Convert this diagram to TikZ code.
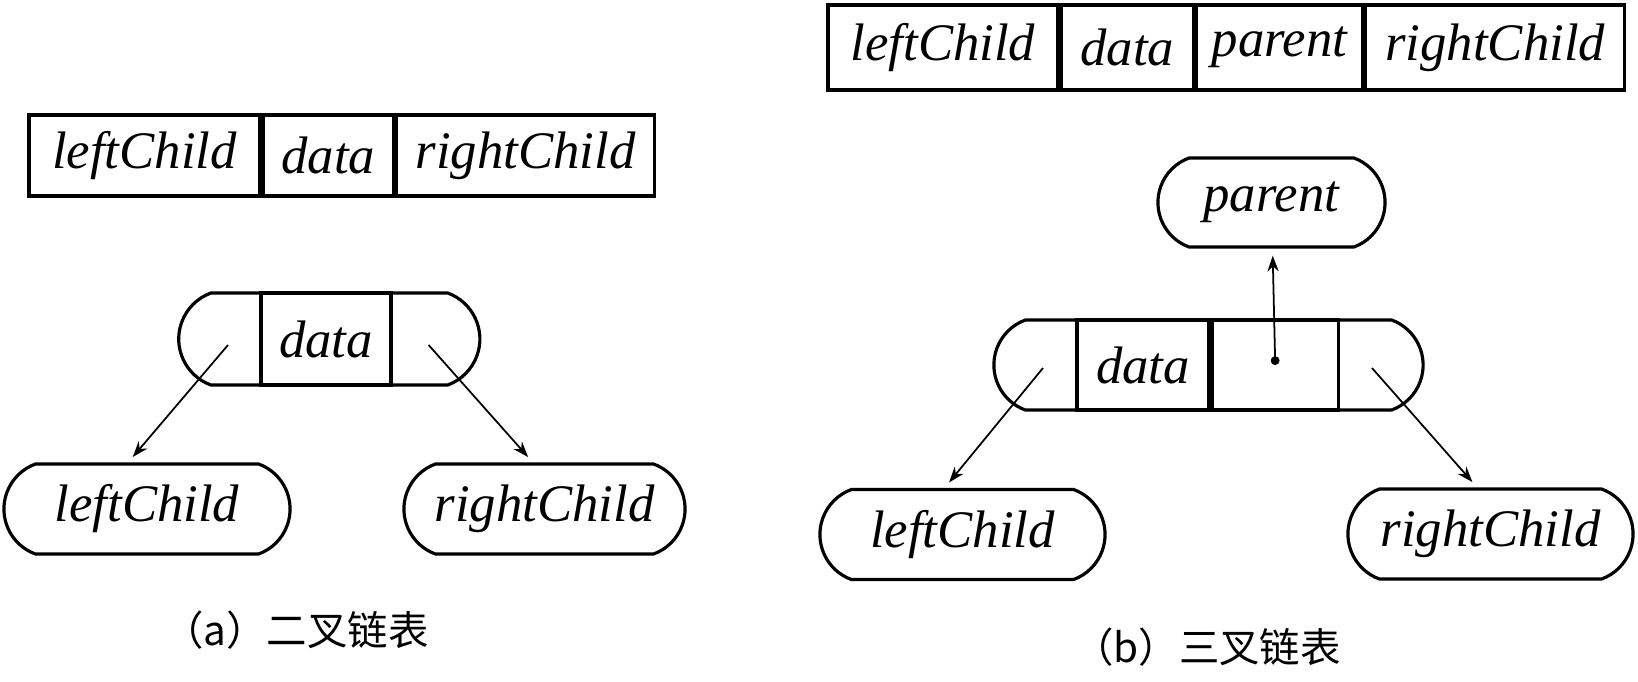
\documentclass[tikz,border=0pt]{standalone}
\usepackage{fontspec}
\setmainfont{Liberation Serif}
\newfontfamily\cjk{Noto Sans CJK SC}
\usetikzlibrary{positioning, arrows.meta, shapes.misc}

\begin{document}
\begin{tikzpicture}[x=0.01cm, y=-0.01cm, line width=0.9pt, node distance=0pt,
    font=\fontsize{15}{18}\selectfont\itshape,
    cell/.style = {draw, rectangle, inner sep=0pt},
    oval/.style = {draw, rounded rectangle, rounded rectangle arc length=140, inner sep=0pt, minimum height=0.9cm},
    link/.style = {-{Stealth[length=4.5pt, width=3.2pt]}, line width=0.5pt, shorten >=2pt},
    caption/.style = {font=\fontsize{11.5}{14}\selectfont\cjk}]
\useasboundingbox (0,0) rectangle (1638,681);

% (a) binary linked list
\node[cell, minimum width=2.31cm, minimum height=0.81cm] (a1) at (144.5,155.5) {leftChild};
\node[cell, minimum width=1.30cm, minimum height=0.81cm, right=of a1] (a2) {data};
\node[cell, minimum width=2.58cm, minimum height=0.81cm, right=of a2] (a3) {rightChild};

\node[oval, minimum width=3.01cm, minimum height=0.92cm] (am) at (329.3,339) {};
\node[cell, minimum width=1.30cm, minimum height=0.92cm] (ad) at (326,339) {data};
\coordinate (al) at (228,345);
\coordinate (ar) at (428.6,345);

\node[oval, minimum width=2.86cm] (alc) at (147,509) {leftChild};
\node[oval, minimum width=2.81cm] (arc) at (544.5,509) {rightChild};
\draw[link] (al) -- (alc.112);
\draw[link] (ar) -- (arc.104);

\node[caption] (acap) at (296,630) {（a）二叉链表};

% (b) trinary linked list
\node[cell, minimum width=2.30cm, minimum height=0.85cm] (b1) at (943,47.5) {leftChild};
\node[cell, minimum width=1.32cm, minimum height=0.85cm, right=of b1] (b2) {data};
\node[cell, minimum width=1.66cm, minimum height=0.85cm, right=of b2] (b3) {parent};
\node[cell, minimum width=2.59cm, minimum height=0.85cm, right=of b3] (b4) {rightChild};

\node[oval, minimum width=2.27cm, minimum height=0.89cm] (bpar) at (1271.5,202.5) {parent};

\node[oval, minimum width=4.29cm] (bm) at (1208.5,365) {};
\node[cell, minimum width=1.32cm, minimum height=0.9cm] (bd) at (1143,365) {data};
\node[cell, minimum width=1.26cm, minimum height=0.9cm, right=of bd] (bp) {};
\coordinate (bl) at (1043,368);
\coordinate (br) at (1372,368);

\node[oval, minimum width=2.85cm] (blc) at (962.5,534.5) {leftChild};
\node[oval, minimum width=2.85cm] (brc) at (1490.5,534) {rightChild};
\draw[link] (bl) -- (blc.111);
\draw[link] (br) -- (brc.106);
\draw[link, {Circle[length=2.5pt]}-{Stealth[length=4.5pt, width=3.2pt]}] (bp.center) -- (bpar);

\node[caption] (bcap) at (1207,647) {（b）三叉链表};
\end{tikzpicture}
\end{document}
